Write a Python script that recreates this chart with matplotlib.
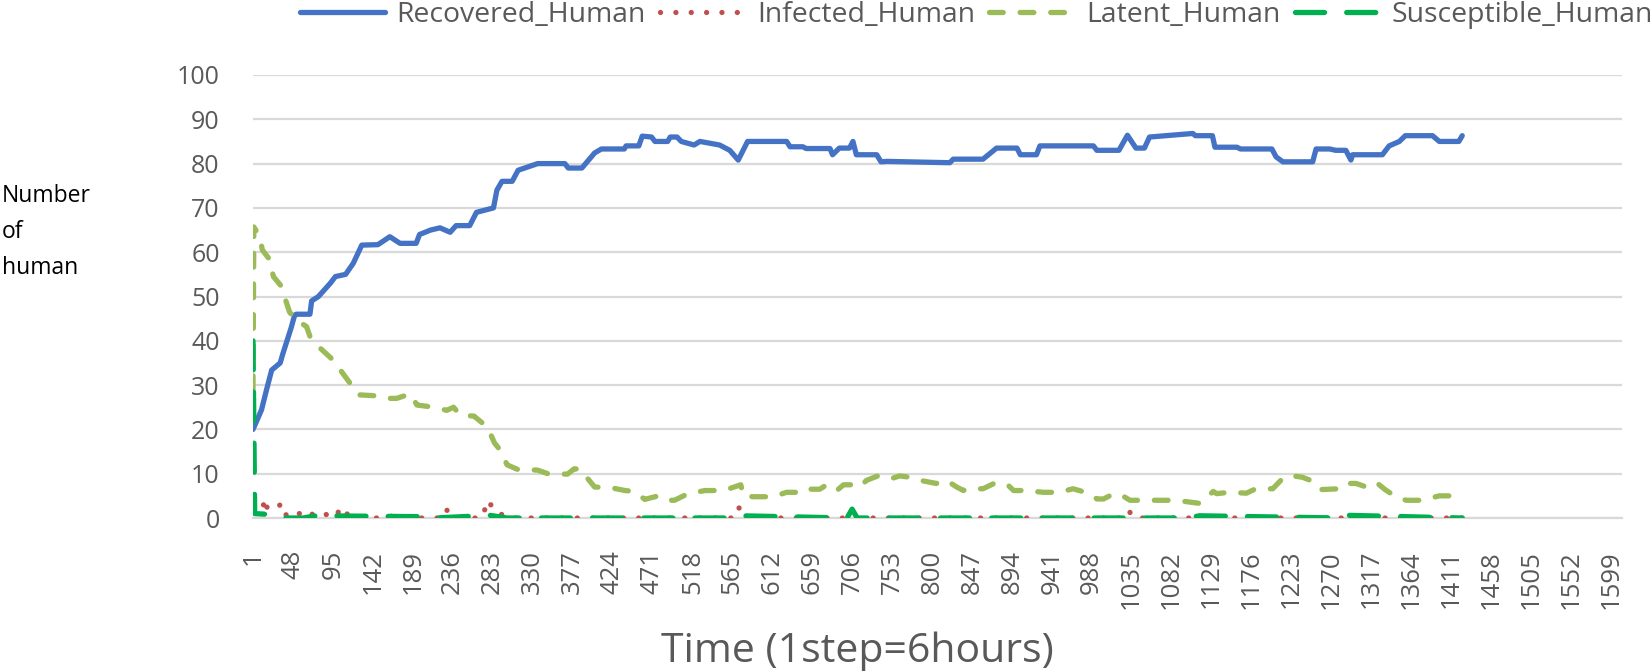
import numpy as np
import matplotlib
matplotlib.use("Agg")
from matplotlib import pyplot as plt

plt.rcParams['font.family'] = ['Open Sans', 'DejaVu Sans']

# ---- data (step, value) ----
rec_t = [1, 11, 17, 23, 33, 36, 46, 50, 52, 68, 70, 78, 92, 98, 110, 119, 129, 148,
         162, 174, 193, 197, 210, 221, 233, 240, 256, 264, 284, 288, 294, 306, 313,
         336, 368, 372, 388, 403, 411, 438, 440, 455, 459, 470, 474, 489, 492, 500,
         505, 520, 527, 550, 562, 572, 583, 629, 633, 648, 652, 680, 683, 691, 703,
         707, 711, 735, 740, 747, 821, 825, 860, 876, 900, 904, 923, 927, 990, 994,
         1020, 1030, 1040, 1050, 1056, 1107, 1110, 1130, 1133, 1159, 1163, 1200,
         1205, 1213, 1248, 1252, 1268, 1275, 1287, 1293, 1295, 1330, 1338, 1350,
         1357, 1389, 1397, 1420, 1424]
rec_v = [20, 24.4, 29, 33.4, 35, 37, 43, 45.8, 46, 46, 49, 50, 53, 54.5, 55, 57.5, 61.6, 61.7,
         63.5, 62, 62, 64, 65, 65.5, 64.5, 66, 66, 69, 70, 74, 76, 76, 78.5,
         80, 80, 79, 79, 82.4, 83.3, 83.3, 84, 84, 86.2, 86, 85, 85, 86, 86,
         85, 84.2, 85, 84.2, 83, 80.8, 85, 85, 83.8, 83.8, 83.4, 83.4, 82, 83.5, 83.5,
         85, 82, 82, 80.4, 80.5, 80.2, 81, 81, 83.5, 83.5, 82, 82, 84, 84, 83,
         83, 86.4, 83.5, 83.5, 86, 86.8, 86.3, 86.3, 83.7, 83.7, 83.3, 83.3,
         81.5, 80.4, 80.4, 83.3, 83.3, 83, 83, 80.8, 82, 82, 84, 85,
         86.3, 86.3, 85, 85, 86.3]

inf_t = [1, 5, 12, 15, 18, 27, 30, 35, 38, 45, 64, 70, 80, 90, 95, 107, 113, 120,
         160, 165, 175, 225, 229, 235, 245, 270, 278, 283, 288, 295, 300, 565, 572,
         578, 585, 1020, 1025, 1032, 1038, 1230, 1235, 1240, 1290, 1295, 1300,
         1305, 1310, 1424]
inf_v = [1.5, 2, 1.8, 4.4, 2, 2.2, 2.5, 3.3, 1, 0, 1.8, 0.8, 1.5, 0.5, 0, 2.5, 0.5, 0,
         0, 0.5, 0, 0, 1.8, 0.5, 0, 0, 4, 2.2, 2, 0.5, 0, 0, 2.5,
         1, 0, 0, 1.5, 1.5, 0, 0, 0.5, 0, 0, 0.5, 0,
         0.5, 0, 0]

lat_t = [1, 2, 9, 12, 20, 25, 34, 38, 44, 50, 64, 68, 78, 95, 113, 117, 125, 145,
         162, 170, 186, 194, 214, 229, 237, 245, 261, 277, 285, 292, 300, 312, 336,
         348, 371, 379, 387, 391, 403, 423, 439, 450, 462, 478, 489, 497, 513, 533,
         555, 575, 578, 590, 613, 629, 641, 645, 668, 676, 688, 696, 707, 715, 723,
         739, 754, 762, 774, 786, 805, 817, 829, 837, 841, 860, 872, 888, 896, 911,
         931, 950, 966, 986, 994, 1002, 1013, 1021, 1033, 1041, 1056, 1080, 1095,
         1115, 1131, 1135, 1150, 1170, 1181, 1201, 1213, 1221, 1236, 1244, 1256,
         1280, 1287, 1299, 1311, 1323, 1334, 1346, 1358, 1377, 1397, 1412]
lat_v = [29, 65.7, 63.5, 60.5, 58.5, 54.5, 52.4, 50, 46.5, 45, 43.2, 41, 38.7, 35.7, 31, 30, 27.8, 27.6,
         27, 27, 28, 25.5, 25, 24.3, 25, 23.2, 23, 20.5, 17, 15.3, 12, 11, 10.8,
         10, 9.9, 11.1, 11, 9.8, 7, 6.8, 6.2, 6, 4.2, 5, 4, 4, 5.5, 6.2,
         6.2, 7.5, 5, 4.8, 4.8, 5.8, 5.8, 6.5, 6.5, 7.5, 6.2, 7.5, 7.5, 7, 8.5,
         9.7, 9, 9.5, 9.2, 8.5, 7.8, 8.5, 7, 6.2, 6.6, 6.6, 7.7, 7.7, 6.2, 6.2,
         5.8, 5.8, 6.6, 5.5, 4.3, 4.3, 5.4, 5.4, 4, 4, 4, 4, 3.8,
         3.3, 6, 5.5, 5.8, 5.6, 6.6, 6.6, 9, 9.6, 9.2, 8.6, 6.4,
         6.6, 7.8, 7.8, 7, 8, 6.3, 4.8, 4, 4, 5, 5]

sus_t = [1, 3, 20, 30, 60, 75, 200, 215, 280, 300, 560, 575, 700, 706, 712,
         1100, 1115, 1280, 1290, 1424]
sus_v = [40, 1, 0.8, 0, 0, 0.5, 0.3, 0, 0.6, 0, 0, 0.5, 0, 2, 0,
         0, 0.5, 0, 0.6, 0]

x_ticks = list(range(1, 1600, 47))
x_ticklabels = [str(t) for t in x_ticks]
y_ticks = list(range(0, 101, 10))

grey = '#595959'

fig = plt.figure(figsize=(16.52, 6.71), dpi=100)
ax = fig.add_axes([253/1652, 1 - 518/671, (1622 - 253)/1652, (518 - 75)/671])

lw = 3.8
l1, = ax.plot(rec_t, rec_v, color='#4472C4', lw=lw, solid_capstyle='round',
              solid_joinstyle='round', zorder=3)
l2, = ax.plot(inf_t, inf_v, color='#C0504D', lw=lw, dash_capstyle='round',
              linestyle=(0, (0.01, 2.9)), zorder=4)
l3, = ax.plot(lat_t, lat_v, color='#9BBB59', lw=lw, dash_capstyle='round',
              linestyle=(0, (2.6, 3.2)), zorder=5)
l4, = ax.plot(sus_t, sus_v, color='#00B050', lw=lw, dash_capstyle='round',
              linestyle=(0, (5.5, 4.2)), zorder=6)

ax.set_xlim(1, 1612)
ax.set_ylim(0, 100)
ax.set_yticks(y_ticks)
ax.set_xticks(x_ticks)
ax.set_xticklabels(x_ticklabels, rotation=90, va='top', ha='center')
ax.tick_params(axis='x', length=0, pad=23, labelsize=18.5, labelcolor=grey)
ax.tick_params(axis='y', length=0, pad=24, labelsize=18, labelcolor=grey)
ax.yaxis.grid(True, color='#D9D9D9', lw=1.6, zorder=0)
for s in ['top', 'right', 'left']:
    ax.spines[s].set_visible(False)
ax.spines['bottom'].set_color('#D9D9D9')
ax.spines['bottom'].set_linewidth(1.6)
ax.set_axisbelow(True)

fig.text(2/1652, 1 - 232/671, 'Number\nof\nhuman', fontsize=16.5, color='black',
         ha='left', va='center', linespacing=1.68)
fig.text(857/1652, 1 - 652/671, 'Time (1step=6hours)', fontsize=29.5, color=grey,
         ha='center', va='center')

fig.legend([l1, l2, l3, l4],
           ['Recovered_Human', 'Infected_Human', 'Latent_Human', 'Susceptible_Human'],
           loc='upper left', bbox_to_anchor=(0.166, 1.036), ncol=4, frameon=False,
           fontsize=20.4, handlelength=3.0, handletextpad=0.42, columnspacing=0.5,
           labelcolor=grey)

fig.savefig('out.png', dpi=100)
